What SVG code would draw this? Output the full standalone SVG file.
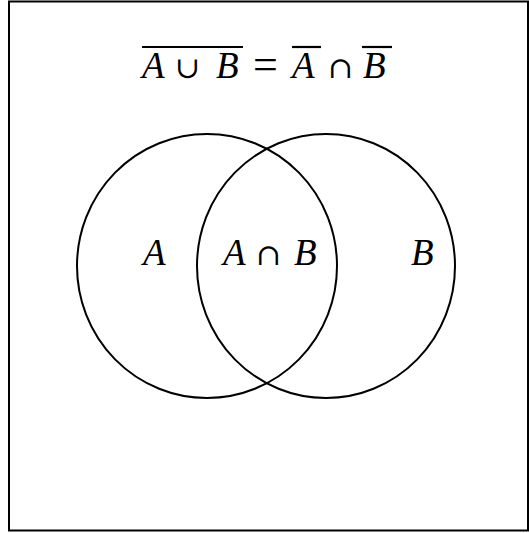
<svg xmlns="http://www.w3.org/2000/svg" width="529" height="533" viewBox="0 0 529 533">
<style>
.m{font-family:"Liberation Serif","DejaVu Serif",serif;font-size:37px;fill:#000}
.i{font-style:italic}
.s{font-family:"DejaVu Serif","Liberation Serif",serif;font-size:30px;fill:#000}
.e{font-family:"Liberation Serif","DejaVu Serif",serif;font-size:44px;fill:#000}
.c{fill:none;stroke:#000;stroke-width:2}
.o{stroke:#000;stroke-width:2.2}
</style>
<rect x="9" y="1.5" width="519" height="529" fill="#fff" stroke="#000" stroke-width="2"/>
<g id="title">
<line class="o" x1="142" y1="47" x2="243" y2="47"/>
<text class="m i" x="142" y="78">A</text>
<text class="s" x="175" y="78">∪</text>
<text class="m i" x="216" y="78">B</text>
<text class="e" x="253" y="79">=</text>
<line class="o" x1="292" y1="47" x2="321" y2="47"/>
<text class="m i" x="292" y="78">A</text>
<text class="s" x="328" y="78">∩</text>
<line class="o" x1="362" y1="47" x2="392" y2="47"/>
<text class="m i" x="363" y="78">B</text>
</g>
<g id="circleA">
<ellipse class="c" cx="207" cy="266" rx="130" ry="132"/>
<text class="m i" x="143" y="265">A</text>
</g>
<g id="circleB">
<ellipse class="c" cx="326" cy="266" rx="129" ry="132"/>
<text class="m i" x="411" y="265">B</text>
</g>
<g id="intersection">
<text class="m i" x="223" y="265">A</text>
<text class="s" x="256" y="265">∩</text>
<text class="m i" x="294" y="265">B</text>
</g>
<g id="connectors"></g>
</svg>
